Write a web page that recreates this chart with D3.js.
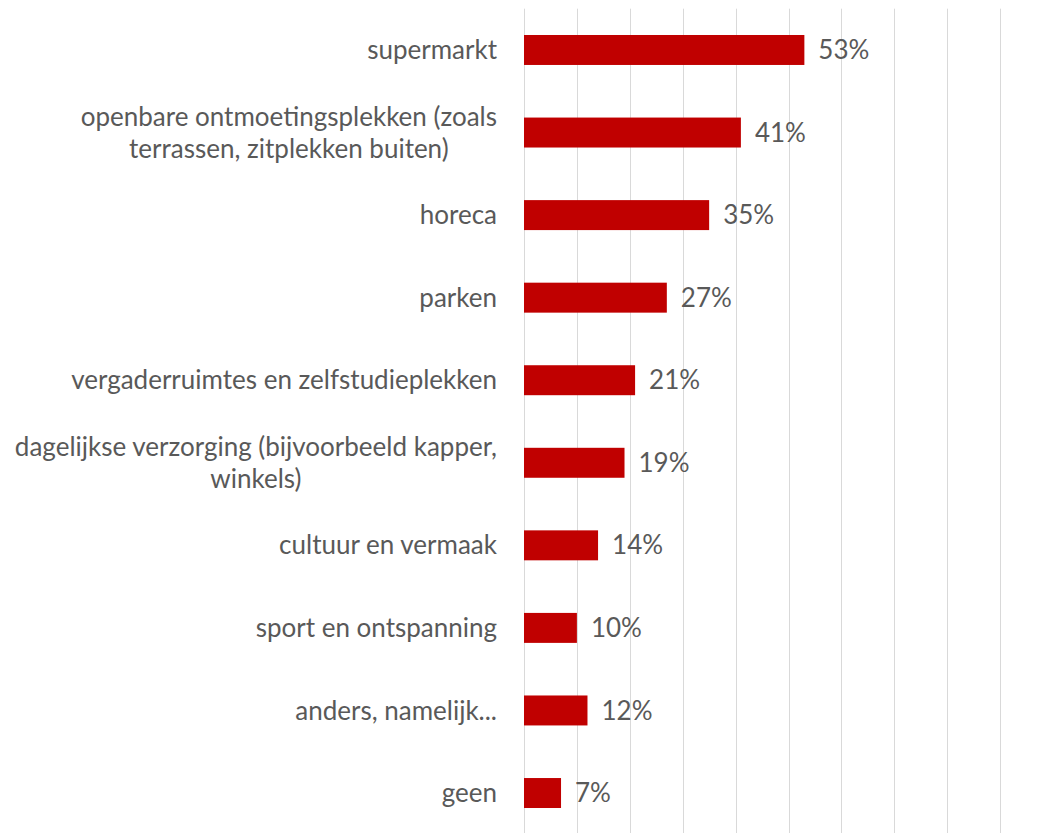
<!DOCTYPE html>
<html>
<head>
<meta charset="utf-8">
<script src="https://cdn.jsdelivr.net/npm/d3@7"></script>
<style>
  body { margin: 0; background: #fff; }
  text { font-family: Lato, "Open Sans", sans-serif; fill: #595959; }
</style>
</head>
<body>
<div id="chart"></div>
<script>
// categories (lines per label) and shares
var categories = [
  ['supermarkt'],
  ['openbare ontmoetingsplekken (zoals', 'terrassen, zitplekken buiten)'],
  ['horeca'],
  ['parken'],
  ['vergaderruimtes en zelfstudieplekken'],
  ['dagelijkse verzorging (bijvoorbeeld kapper,', 'winkels)'],
  ['cultuur en vermaak'],
  ['sport en ontspanning'],
  ['anders, namelijk...'],
  ['geen']
];
var values = [0.53, 0.41, 0.35, 0.27, 0.21, 0.19, 0.14, 0.10, 0.12, 0.07];
var gridTicks = [0, 0.1, 0.2, 0.3, 0.4, 0.5, 0.6, 0.7, 0.8, 0.9, 1.0];

var width = 1046,
	height = 833,
	margin = { top: 8.7, bottom: -1.3, left: 524, right: 0 },
	plotRight = 1053,
	fontSize = 26;

var svg = d3.select('#chart').append('svg')
	.attr('width', width)
	.attr('height', height);

var data = categories.map(function(c, i) {
	return { key: c.join(' '), lines: c, value: values[i] };
});

var xScale = d3.scaleLinear()
	.domain([0, 1])
	.range([margin.left, plotRight]);

var yScale = d3.scaleBand()
	.domain(data.map(function(d) { return d.key; }))
	.range([margin.top, height - margin.bottom])
	.paddingInner(0.637)
	.paddingOuter(0.3185);

// vertical gridlines
svg.append('g').selectAll('line')
	.data(gridTicks)
	.enter().append('line')
	.attr('x1', function(d) { return Math.round(xScale(d)) + 0.5; })
	.attr('x2', function(d) { return Math.round(xScale(d)) + 0.5; })
	.attr('y1', margin.top)
	.attr('y2', height)
	.attr('stroke', '#d9d9d9')
	.attr('stroke-width', 1);

// bars
svg.append('g').selectAll('rect')
	.data(data)
	.enter().append('rect')
	.attr('x', xScale(0))
	.attr('y', function(d) { return yScale(d.key); })
	.attr('width', function(d) { return xScale(d.value) - xScale(0); })
	.attr('height', yScale.bandwidth())
	.attr('fill', '#c00000');

// value labels
svg.append('g').selectAll('text')
	.data(data)
	.enter().append('text')
	.attr('x', function(d) { return xScale(d.value) + 14; })
	.attr('y', function(d) { return yScale(d.key) + yScale.bandwidth() / 2; })
	.attr('dy', '0.35em')
	.attr('font-size', fontSize)
	.text(function(d) { return Math.round(d.value * 100) + '%'; });

// category labels, multi-line ones centred on their widest line
var labelRight = margin.left - 27,
	lineHeight = 32;

var labels = svg.append('g').selectAll('g')
	.data(data)
	.enter().append('g');

labels.each(function(d) {
	var g = d3.select(this);
	var cy = yScale(d.key) + yScale.bandwidth() / 2;
	var n = d.lines.length;
	var texts = g.selectAll('text')
		.data(d.lines)
		.enter().append('text')
		.attr('font-size', fontSize)
		.attr('text-anchor', 'middle')
		.attr('y', function(l, i) { return cy + (i - (n - 1) / 2) * lineHeight; })
		.attr('dy', '0.35em')
		.text(function(l) { return l; });
	var maxW = 0;
	texts.each(function() { maxW = Math.max(maxW, this.getComputedTextLength()); });
	texts.attr('x', labelRight - maxW / 2);
});
</script>
</body>
</html>
